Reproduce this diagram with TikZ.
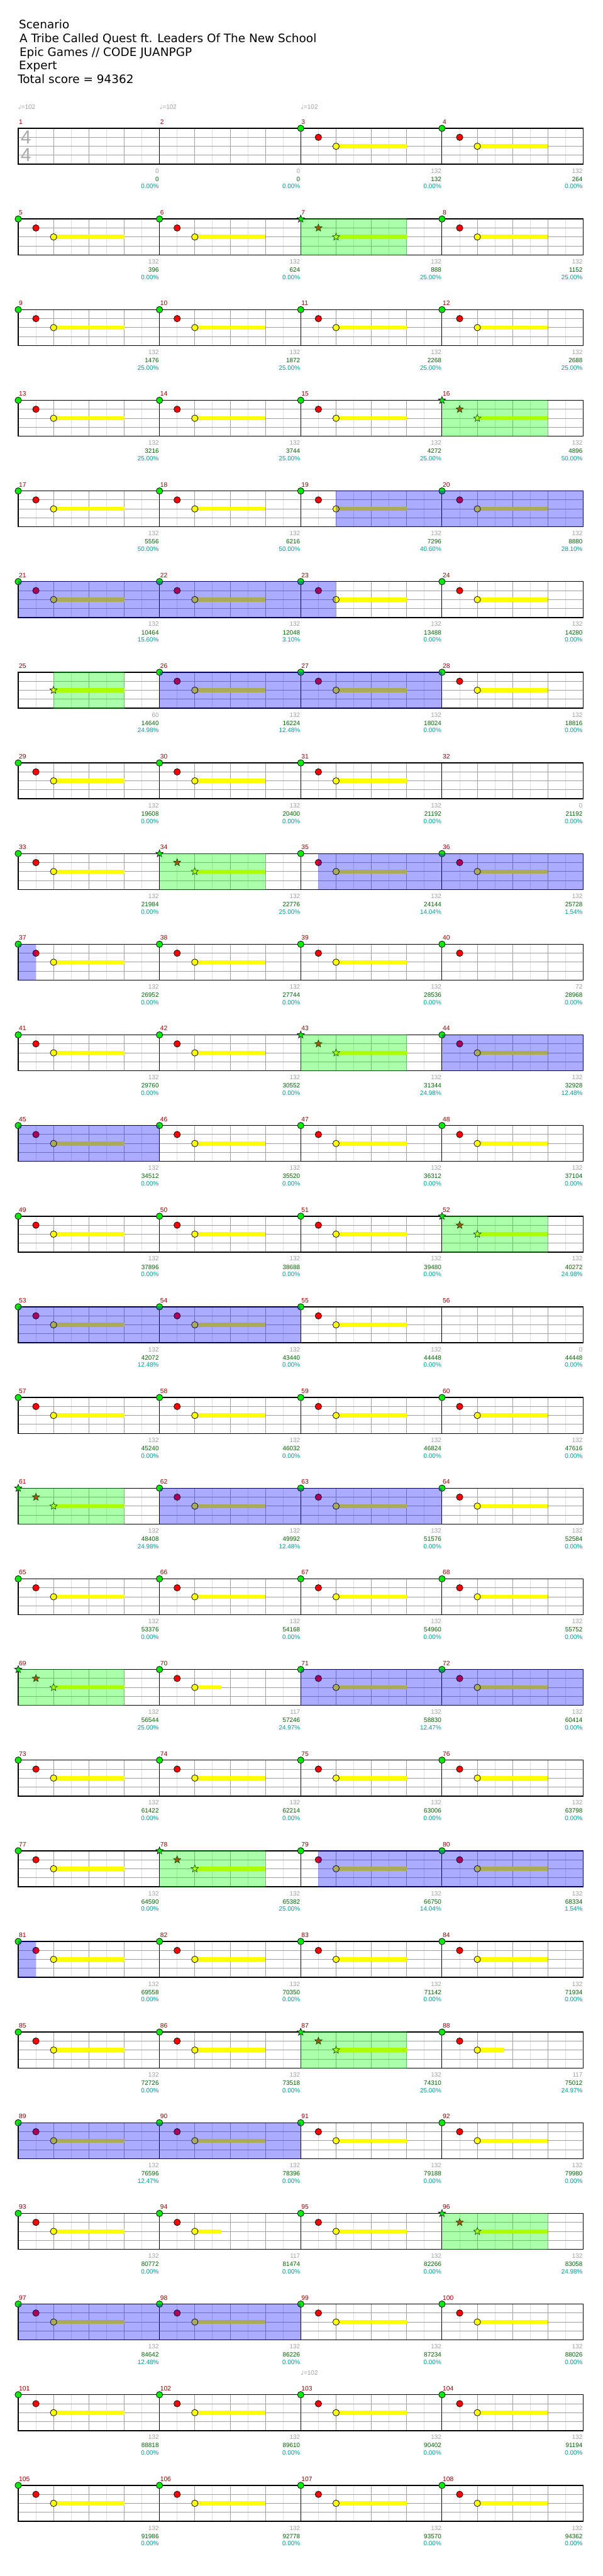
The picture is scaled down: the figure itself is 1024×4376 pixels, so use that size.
\documentclass[tikz,border=0pt]{standalone}
\usepackage{fontspec}
\setmainfont{Liberation Sans}
\newfontfamily\notefont{DejaVu Sans}
\newfontfamily\headfont{DejaVu Sans}
\usepackage{tikz}
\usetikzlibrary{shapes.geometric}
\definecolor{gridgray}{RGB}{160,160,160}
\definecolor{gridlight}{RGB}{222,222,222}
\definecolor{lblgray}{RGB}{160,160,160}
\definecolor{sigray}{RGB}{170,170,170}
\definecolor{cumgreen}{RGB}{0,100,0}
\definecolor{pctcyan}{RGB}{0,153,153}
\definecolor{numred}{RGB}{153,0,0}
\definecolor{fretgreen}{RGB}{0,235,0}
\definecolor{fretred}{RGB}{255,0,0}
\definecolor{fretyellow}{RGB}{255,255,0}
\definecolor{spgreen}{RGB}{0,255,0}
\definecolor{odblue}{RGB}{0,0,255}
\tikzset{note/.style = {shape = circle, draw, line width = 0.8pt, inner sep = 0pt, minimum size = 11pt}}
\tikzset{starnote/.style = {shape = star, star points = 5, star point ratio = 2.3, draw, line width = 0.7pt, inner sep = 0pt, minimum size = 13pt}}
\tikzset{fret/.style = {note}}
\tikzset{sustain/.style = {draw = fretyellow, line width = 7pt}}
\tikzset{halfline/.style = {draw = gridlight, line width = 1pt}}
\tikzset{beatline/.style = {draw = gridgray, line width = 1pt}}
\tikzset{barline/.style = {draw = black, line width = 1pt}}
\tikzset{lane/.style = {draw = gridgray, line width = 1pt}}
\tikzset{staff/.style = {draw = black, line width = 1.5pt}}
\tikzset{numlbl/.style = {anchor = base west, inner sep = 0pt, text = numred, font = \fontsize{11}{11}\selectfont}}
\tikzset{scorelbl/.style = {anchor = base east, inner sep = 0pt, text = lblgray, font = \fontsize{10.6}{11}\selectfont}}
\tikzset{cumlbl/.style = {scorelbl, text = cumgreen}}
\tikzset{pctlbl/.style = {scorelbl, text = pctcyan}}
\tikzset{tempo/.style = {anchor = base west, inner sep = 0pt, text = lblgray, font = \fontsize{10.6}{11}\selectfont}}
\tikzset{header/.style = {anchor = base west, inner sep = 0pt, font = \headfont\fontsize{19.7}{23}\selectfont}}
\tikzset{sigdigit/.style = {inner sep = 0pt, text = sigray, font = \fontsize{32}{32}\selectfont}}
\tikzset{spzone/.style = {fill = spgreen, fill opacity = 0.33}}
\tikzset{odzone/.style = {fill = odblue, fill opacity = 0.33}}

\begin{document}
\begin{tikzpicture}[x = 1pt, y = -1pt]
	\useasboundingbox[fill = white] (0,0) rectangle (1024,4376);

	\node[header] (scenario) at (32,49) {Scenario};
	\node[header] (song) at (33,72.5) {A Tribe Called Quest ft. Leaders Of The New School};
	\node[header] (charter) at (33,95.5) {Epic Games // CODE JUANPGP};
	\node[header] (level) at (32,118.5) {Expert};
	\node[header] (total) at (30,141.5) {Total score = 94362};

	% staff rows
	\foreach \r in {0,...,26} {
		\pgfmathsetmacro{\ry}{218+154*\r}
		\foreach \i in {1,3,...,31}
			\draw[halfline] (31+30*\i,\ry) -- (31+30*\i,\ry+61);
		\foreach \i in {2,4,6,10,12,14,18,20,22,26,28,30}
			\draw[beatline] (31+30*\i,\ry) -- (31+30*\i,\ry+61);
		\foreach \i in {1,2,3}
			\draw[lane] (31,\ry+15.25*\i) -- (991,\ry+15.25*\i);
		\foreach \i in {8,16,24}
			\draw[barline] (31+30*\i,\ry) -- (31+30*\i,\ry+61);
		\draw[staff] (31,\ry) rectangle (991,\ry+61);
	}

	\node[sigdigit] (sig-num) at (44,233.3) {4};
	\node[sigdigit] (sig-den) at (44,263.3) {4};

	% measure / kind / score / total / percent
	\foreach \m/\k/\sc/\cum/\pct in {
		1/0/0/0/0.00, 2/0/0/0/0.00, 3/1/132/132/0.00, 4/1/132/264/0.00,
		5/1/132/396/0.00, 6/1/132/624/0.00, 7/3/132/888/25.00, 8/1/132/1152/25.00,
		9/1/132/1476/25.00, 10/1/132/1872/25.00, 11/1/132/2268/25.00, 12/1/132/2688/25.00,
		13/1/132/3216/25.00, 14/1/132/3744/25.00, 15/1/132/4272/25.00, 16/3/132/4896/50.00,
		17/1/132/5556/50.00, 18/1/132/6216/50.00, 19/1/132/7296/40.60, 20/1/132/8880/28.10,
		21/1/132/10464/15.60, 22/1/132/12048/3.10, 23/1/132/13488/0.00, 24/1/132/14280/0.00,
		25/4/60/14640/24.98, 26/1/132/16224/12.48, 27/1/132/18024/0.00, 28/1/132/18816/0.00,
		29/1/132/19608/0.00, 30/1/132/20400/0.00, 31/1/132/21192/0.00, 32/0/0/21192/0.00,
		33/1/132/21984/0.00, 34/3/132/22776/25.00, 35/1/132/24144/14.04, 36/1/132/25728/1.54,
		37/1/132/26952/0.00, 38/1/132/27744/0.00, 39/1/132/28536/0.00, 40/5/72/28968/0.00,
		41/1/132/29760/0.00, 42/1/132/30552/0.00, 43/3/132/31344/24.98, 44/1/132/32928/12.48,
		45/1/132/34512/0.00, 46/1/132/35520/0.00, 47/1/132/36312/0.00, 48/1/132/37104/0.00,
		49/1/132/37896/0.00, 50/1/132/38688/0.00, 51/1/132/39480/0.00, 52/3/132/40272/24.98,
		53/1/132/42072/12.48, 54/1/132/43440/0.00, 55/1/132/44448/0.00, 56/0/0/44448/0.00,
		57/1/132/45240/0.00, 58/1/132/46032/0.00, 59/1/132/46824/0.00, 60/1/132/47616/0.00,
		61/3/132/48408/24.98, 62/1/132/49992/12.48, 63/1/132/51576/0.00, 64/1/132/52584/0.00,
		65/1/132/53376/0.00, 66/1/132/54168/0.00, 67/1/132/54960/0.00, 68/1/132/55752/0.00,
		69/3/132/56544/25.00, 70/2/117/57246/24.97, 71/1/132/58830/12.47, 72/1/132/60414/0.00,
		73/1/132/61422/0.00, 74/1/132/62214/0.00, 75/1/132/63006/0.00, 76/1/132/63798/0.00,
		77/1/132/64590/0.00, 78/3/132/65382/25.00, 79/1/132/66750/14.04, 80/1/132/68334/1.54,
		81/1/132/69558/0.00, 82/1/132/70350/0.00, 83/1/132/71142/0.00, 84/1/132/71934/0.00,
		85/1/132/72726/0.00, 86/1/132/73518/0.00, 87/3/132/74310/25.00, 88/2/117/75012/24.97,
		89/1/132/76596/12.47, 90/1/132/78396/0.00, 91/1/132/79188/0.00, 92/1/132/79980/0.00,
		93/1/132/80772/0.00, 94/2/117/81474/0.00, 95/1/132/82266/0.00, 96/3/132/83058/24.98,
		97/1/132/84642/12.48, 98/1/132/86226/0.00, 99/1/132/87234/0.00, 100/1/132/88026/0.00,
		101/1/132/88818/0.00, 102/1/132/89610/0.00, 103/1/132/90402/0.00, 104/1/132/91194/0.00,
		105/1/132/91986/0.00, 106/1/132/92778/0.00, 107/1/132/93570/0.00, 108/1/132/94362/0.00} {
		\pgfmathtruncatemacro{\row}{(\m-1)/4}
		\pgfmathtruncatemacro{\col}{\m-1-4*\row}
		\pgfmathsetmacro{\mx}{31+240*\col}
		\pgfmathsetmacro{\my}{218+154*\row}
		\ifnum\k>2 \ifnum\k<5 \tikzset{fret/.style = {starnote}}\fi\fi
		\ifnum\k=2 \def\slen{45}\else\def\slen{120}\fi
		\ifnum\k>0 \ifnum\k<5
			\coordinate (ys-\m) at (\mx+60,\my+30.5);
			\coordinate (ye-\m) at (\mx+60+\slen,\my+30.5);
			\draw[sustain] (ys-\m) -- (ye-\m);
			\node[fret, fill = fretyellow] (y-\m) at (ys-\m) {};
		\fi\fi
		\ifnum\k>0 \ifnum\k=4 \else
			\node[fret, fill = fretred] (r-\m) at (\mx+30,\my+15.25) {};
			\node[fret, fill = fretgreen] (g-\m) at (\mx,\my) {};
		\fi\fi
		\node[numlbl] (num-\m) at (\mx+1,\my-7) {\m};
		\node[scorelbl] (sc-\m) at (\mx+239,\my+76) {\sc};
		\node[cumlbl] (cum-\m) at (\mx+239,\my+90) {\cum};
		\node[pctlbl] (pct-\m) at (\mx+239,\my+102.5) {\pct\%};
	}

	% star power phrases
	\foreach \ma/\oa in {7/0, 16/0, 25/60, 34/0, 43/0, 52/0, 61/0, 69/0, 78/0, 87/0, 96/0} {
		\pgfmathtruncatemacro{\row}{(\ma-1)/4}
		\pgfmathsetmacro{\xa}{31+240*(\ma-1-4*\row)+\oa}
		\pgfmathsetmacro{\xb}{31+240*(\ma-1-4*\row)+180}
		\pgfmathsetmacro{\my}{218+154*\row}
		\fill[spzone] (\xa,\my-0.75) rectangle (\xb,\my+61.75);
	}

	% overdrive
	\foreach \ma/\oa/\mb/\ob in {19/60/20/240, 21/0/23/60, 26/0/27/240, 35/30/36/240, 37/0/37/30,
		44/0/44/240, 45/0/45/240, 53/0/54/240, 62/0/63/240, 71/0/72/240, 79/30/80/240, 81/0/81/30,
		89/0/90/240, 97/0/98/240} {
		\pgfmathtruncatemacro{\row}{(\ma-1)/4}
		\pgfmathsetmacro{\xa}{31+240*(\ma-1-4*\row)+\oa}
		\pgfmathsetmacro{\xb}{31+240*(\mb-1-4*\row)+\ob}
		\pgfmathsetmacro{\my}{218+154*\row}
		\fill[odzone] (\xa,\my-0.75) rectangle (\xb,\my+61.75);
	}

	\node[tempo] (bpm-1) at (31,185) {{\notefont ♩}=102};
	\node[tempo] (bpm-2) at (271,185) {{\notefont ♩}=102};
	\node[tempo] (bpm-3) at (511,185) {{\notefont ♩}=102};
	\node[tempo] (bpm-103) at (511,4035) {{\notefont ♩}=102};
\end{tikzpicture}
\end{document}
